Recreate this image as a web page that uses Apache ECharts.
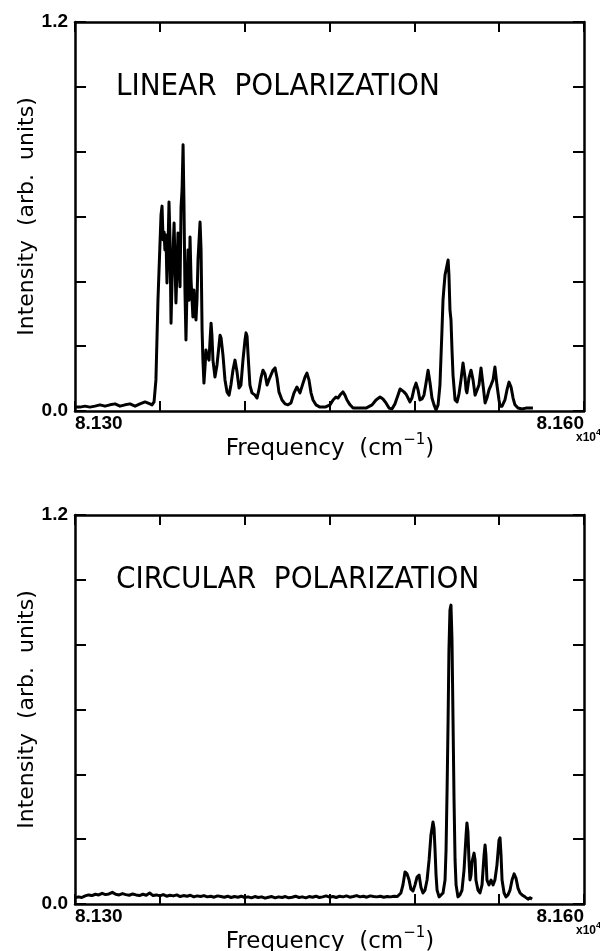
<!DOCTYPE html>
<html>
<head>
<meta charset="utf-8">
<script src="https://cdn.jsdelivr.net/npm/echarts@6.0.0/dist/echarts.min.js"></script>
<style>
  html, body { margin: 0; padding: 0; background: #fff; }
  #chart { width: 600px; height: 951px; }
</style>
</head>
<body>
<div id="chart"></div>
<script>
// frequency axis (cm^-1) and tick labels
const freqMin = 81300;
const freqMax = 81600;
const freqStep = 50;
const intMin = 0;
const intMax = 1.2;
const intStep = 0.2;

// linear polarization spectrum
const linFreq = [
  81300.0, 81302.9, 81305.9, 81308.8, 81311.8, 81314.7, 81317.7, 81320.6, 81323.6, 81326.5,
  81329.5, 81332.4, 81335.4, 81338.3, 81341.3, 81342.4, 81344.2, 81345.4, 81346.6, 81347.7,
  81348.9, 81350.1, 81350.7, 81351.3, 81351.9, 81352.5, 81353.0, 81353.6, 81354.2, 81354.8,
  81355.4, 81356.0, 81356.6, 81357.2, 81358.4, 81358.9, 81359.5, 81360.1, 81360.7, 81361.3,
  81361.9, 81362.5, 81363.1, 81363.7, 81364.2, 81364.8, 81365.4, 81366.0, 81366.6, 81367.2,
  81367.8, 81368.4, 81369.0, 81369.5, 81370.1, 81370.7, 81371.3, 81371.9, 81372.5, 81373.7,
  81374.3, 81374.9, 81375.4, 81376.0, 81376.6, 81377.2, 81377.8, 81378.4, 81379.0, 81379.6,
  81380.2, 81380.7, 81381.3, 81382.5, 81383.7, 81384.9, 81385.5, 81386.1, 81387.2, 81388.4,
  81389.6, 81390.8, 81391.9, 81393.1, 81394.3, 81395.5, 81396.7, 81397.8, 81399.0, 81400.2,
  81400.8, 81401.4, 81402.0, 81403.1, 81404.3, 81406.1, 81407.3, 81408.4, 81409.6, 81410.8,
  81412.0, 81413.2, 81414.3, 81415.5, 81416.7, 81417.9, 81419.1, 81420.2, 81422.0, 81423.8,
  81425.5, 81427.3, 81429.1, 81430.8, 81432.6, 81434.4, 81435.6, 81436.7, 81437.9, 81439.1,
  81440.3, 81442.0, 81444.4, 81447.4, 81450.3, 81452.1, 81453.8, 81455.0, 81456.2, 81457.9,
  81459.1, 81460.3, 81462.1, 81463.9, 81468.0, 81471.5, 81475.1, 81477.4, 81479.8, 81481.5,
  81483.3, 81485.1, 81486.8, 81488.6, 81490.4, 81491.6, 81492.7, 81493.9, 81495.1, 81496.3,
  81497.4, 81498.6, 81499.8, 81501.0, 81502.2, 81503.3, 81504.5, 81505.7, 81506.9, 81508.1,
  81509.2, 81510.4, 81511.6, 81512.8, 81514.0, 81515.1, 81516.3, 81516.9, 81517.5, 81518.1,
  81518.7, 81519.3, 81519.9, 81520.4, 81521.0, 81521.6, 81522.2, 81522.8, 81524.0, 81525.2,
  81526.3, 81527.5, 81528.7, 81529.3, 81529.9, 81530.5, 81531.0, 81532.2, 81533.4, 81534.6,
  81535.8, 81536.9, 81538.1, 81539.3, 81540.5, 81541.7, 81542.8, 81544.0, 81545.2, 81546.4,
  81547.5, 81548.7, 81549.9, 81550.5, 81551.7, 81553.4, 81554.6, 81555.8, 81557.0, 81558.2,
  81559.3, 81561.1, 81563.5, 81565.8, 81568.2, 81569.9
];
const linInt = [
  0.012, 0.012, 0.015, 0.012, 0.015, 0.019, 0.015, 0.019, 0.022, 0.015,
  0.019, 0.022, 0.015, 0.022, 0.028, 0.034, 0.022, 0.019, 0.028, 0.096,
  0.342, 0.518, 0.605, 0.632, 0.528, 0.552, 0.497, 0.543, 0.395, 0.497,
  0.645, 0.528, 0.271, 0.404, 0.580, 0.466, 0.333, 0.435, 0.549, 0.450,
  0.383, 0.629, 0.682, 0.821, 0.651, 0.373, 0.219, 0.373, 0.497, 0.342,
  0.537, 0.404, 0.342, 0.290, 0.373, 0.312, 0.281, 0.342, 0.466, 0.583,
  0.497, 0.250, 0.157, 0.086, 0.133, 0.188, 0.173, 0.173, 0.157, 0.219,
  0.271, 0.234, 0.157, 0.105, 0.142, 0.204, 0.234, 0.225, 0.173, 0.096,
  0.059, 0.049, 0.080, 0.126, 0.157, 0.120, 0.071, 0.080, 0.157, 0.219,
  0.241, 0.231, 0.173, 0.080, 0.056, 0.049, 0.040, 0.065, 0.102, 0.126,
  0.114, 0.080, 0.096, 0.111, 0.126, 0.133, 0.102, 0.059, 0.034, 0.022,
  0.019, 0.025, 0.056, 0.074, 0.056, 0.086, 0.105, 0.117, 0.096, 0.056,
  0.034, 0.019, 0.012, 0.012, 0.019, 0.034, 0.043, 0.040, 0.049, 0.059,
  0.049, 0.034, 0.019, 0.009, 0.009, 0.009, 0.019, 0.034, 0.043, 0.037,
  0.025, 0.009, 0.006, 0.022, 0.049, 0.068, 0.074, 0.059, 0.052, 0.040,
  0.028, 0.040, 0.068, 0.086, 0.065, 0.034, 0.037, 0.049, 0.086, 0.126,
  0.089, 0.040, 0.019, 0.003, 0.019, 0.080, 0.250, 0.342, 0.383, 0.420,
  0.435, 0.450, 0.466, 0.420, 0.312, 0.281, 0.188, 0.111, 0.034, 0.028,
  0.052, 0.096, 0.148, 0.142, 0.102, 0.065, 0.056, 0.102, 0.126, 0.096,
  0.049, 0.043, 0.080, 0.133, 0.080, 0.025, 0.040, 0.065, 0.080, 0.096,
  0.136, 0.080, 0.034, 0.015, 0.015, 0.034, 0.065, 0.089, 0.074, 0.040,
  0.019, 0.009, 0.006, 0.009, 0.009, 0.009
];

// circular polarization spectrum
const circFreq = [
  81300, 81302, 81304, 81306, 81308, 81310, 81312, 81314, 81316, 81318,
  81320, 81322, 81324, 81326, 81328, 81330, 81332, 81334, 81336, 81338,
  81340, 81342, 81344, 81346, 81348, 81350, 81352, 81354, 81356, 81358,
  81360, 81362, 81364, 81366, 81368, 81370, 81372, 81374, 81376, 81378,
  81380, 81382, 81384, 81386, 81388, 81390, 81392, 81394, 81396, 81398,
  81400, 81402, 81404, 81406, 81408, 81410, 81412, 81414, 81416, 81418,
  81420, 81422, 81424, 81426, 81428, 81430, 81432, 81434, 81436, 81438,
  81440, 81442, 81444, 81446, 81448, 81450, 81452, 81454, 81456, 81458,
  81460, 81462, 81464, 81466, 81468, 81470, 81472, 81474, 81476, 81478,
  81480, 81482, 81484, 81486, 81488, 81490,
  81492.1, 81493.3, 81494.5, 81495.1, 81495.7, 81496.9, 81498.0, 81499.2, 81500.4, 81501.6,
  81502.8, 81503.9, 81505.1, 81506.3, 81507.5, 81508.7, 81509.8, 81511.0, 81511.6, 81512.2,
  81512.8, 81513.4, 81514.6, 81515.7, 81516.9, 81518.1, 81518.7, 81519.3, 81519.9, 81520.4,
  81521.0, 81521.6, 81522.2, 81522.8, 81523.4, 81524.0, 81524.6, 81525.7, 81526.9, 81528.1,
  81529.3, 81530.5, 81531.0, 81531.6, 81532.2, 81532.8, 81533.4, 81534.0, 81535.2, 81535.8,
  81536.3, 81537.5, 81538.7, 81539.9, 81541.1, 81541.7, 81542.2, 81542.8, 81544.0, 81545.2,
  81546.4, 81547.5, 81548.7, 81549.9, 81550.5, 81551.1, 81551.7, 81552.9, 81554.0, 81555.2,
  81556.4, 81557.6, 81558.8, 81559.9, 81561.1, 81562.3, 81563.5, 81565.2, 81567.0, 81568.2,
  81569.4
];
const circInt = [
  0.019, 0.022, 0.020, 0.025, 0.028, 0.026, 0.030, 0.028, 0.033, 0.029,
  0.031, 0.036, 0.030, 0.028, 0.032, 0.029, 0.027, 0.031, 0.028, 0.026,
  0.030, 0.027, 0.034, 0.026, 0.028, 0.025, 0.029, 0.024, 0.027, 0.025,
  0.028, 0.023, 0.026, 0.024, 0.027, 0.022, 0.025, 0.023, 0.026, 0.022,
  0.024, 0.021, 0.025, 0.023, 0.021, 0.024, 0.020, 0.023, 0.021, 0.024,
  0.020, 0.022, 0.019, 0.023, 0.020, 0.022, 0.018, 0.021, 0.023, 0.019,
  0.022, 0.020, 0.023, 0.019, 0.021, 0.024, 0.020, 0.022, 0.019, 0.023,
  0.021, 0.024, 0.020, 0.022, 0.025, 0.021, 0.023, 0.020, 0.024, 0.022,
  0.025, 0.021, 0.023, 0.026, 0.022, 0.024, 0.021, 0.025, 0.023, 0.022,
  0.024, 0.021, 0.023, 0.022, 0.024, 0.023,
  0.034, 0.059, 0.099, 0.105, 0.093, 0.074, 0.046, 0.040, 0.059, 0.083,
  0.089, 0.052, 0.034, 0.043, 0.074, 0.136, 0.213, 0.253, 0.234, 0.167,
  0.089, 0.043, 0.022, 0.022, 0.034, 0.074, 0.167, 0.352, 0.568, 0.784,
  0.907, 0.922, 0.814, 0.568, 0.321, 0.136, 0.059, 0.022, 0.028, 0.043,
  0.105, 0.213, 0.250, 0.222, 0.136, 0.074, 0.089, 0.130, 0.157, 0.136,
  0.074, 0.043, 0.034, 0.059, 0.151, 0.182, 0.151, 0.074, 0.059, 0.074,
  0.059, 0.074, 0.120, 0.197, 0.204, 0.151, 0.074, 0.034, 0.022, 0.028,
  0.043, 0.074, 0.093, 0.080, 0.049, 0.034, 0.028, 0.022, 0.015, 0.019,
  0.015
];

const panelTitles = ["LINEAR  POLARIZATION", "CIRCULAR  POLARIZATION"];
const xTickLabels = { 81300: "8.130", 81600: "8.160" };
const yTickLabels = ["0.0", "1.2"];

const chart = echarts.init(document.getElementById("chart"));

const pairs = (xs, ys) => {
  const n = Math.min(xs.length, ys.length);
  const out = [];
  for (let i = 0; i < n; i++) out.push([xs[i], ys[i]]);
  return out;
};

const gridTops = [22, 515];
const gridH = 389;
const boldFamily = '"Liberation Sans", Arial, sans-serif';

const xAxes = [];
const yAxes = [];
gridTops.forEach((t, g) => {
  ["bottom", "top"].forEach((pos) => {
    xAxes.push({
      gridIndex: g,
      type: "value",
      position: pos,
      min: freqMin,
      max: freqMax,
      interval: freqStep,
      axisLine: { onZero: false, lineStyle: { color: "#000", width: 2.5 } },
      axisTick: { inside: true, length: 10, lineStyle: { color: "#000", width: 2 } },
      splitLine: { show: false },
      axisLabel: {
        show: pos === "bottom",
        margin: 3,
        color: "#000",
        fontSize: 19,
        fontWeight: "bold",
        fontFamily: boldFamily,
        showMinLabel: true,
        showMaxLabel: true,
        alignMinLabel: "left",
        alignMaxLabel: "right",
        formatter: (v) => xTickLabels[Math.round(v)] || "",
      },
    });
  });
  ["left", "right"].forEach((pos) => {
    yAxes.push({
      gridIndex: g,
      type: "value",
      position: pos,
      min: intMin,
      max: intMax,
      interval: intStep,
      axisLine: { onZero: false, lineStyle: { color: "#000", width: 2.5 } },
      axisTick: { inside: true, length: 11, lineStyle: { color: "#000", width: 2 } },
      splitLine: { show: false },
      axisLabel: {
        show: pos === "left",
        margin: 7,
        color: "#000",
        fontSize: 19,
        fontWeight: "bold",
        fontFamily: boldFamily,
        showMinLabel: true,
        showMaxLabel: true,
        formatter: (v) => {
          if (Math.abs(v - intMin) < 1e-6) return yTickLabels[0];
          if (Math.abs(v - intMax) < 1e-6) return yTickLabels[1];
          return "";
        },
      },
    });
  });
});

const titleFont = '31px "DejaVu Sans Condensed", "Liberation Sans Narrow", "Liberation Sans", sans-serif';
const labelFont = '"DejaVu Sans", sans-serif';

const graphics = [];
const xTitleOffset = 36;
const x104Offset = 25;
gridTops.forEach((t, g) => {
  const axisY = t + gridH;
  graphics.push({
    type: "text",
    x: 116,
    y: t + gridH / 6,
    style: { text: panelTitles[g], font: titleFont, fill: "#000", align: "left", verticalAlign: "middle" },
  });
  graphics.push({
    type: "text",
    x: 27,
    y: t + gridH / 2,
    rotation: Math.PI / 2,
    style: {
      text: "Intensity  (arb.  units)",
      font: "22px " + labelFont,
      fill: "#000",
      align: "center",
      verticalAlign: "middle",
    },
  });
  graphics.push({
    type: "text",
    x: 330,
    y: axisY + xTitleOffset,
    style: {
      text: "{a|Frequency  (cm}{s|\u22121}{a|)}",
      align: "center",
      verticalAlign: "middle",
      fill: "#000",
      rich: {
        a: { font: "23px " + labelFont, fill: "#000", lineHeight: 28, verticalAlign: "bottom" },
        s: { font: "15px " + labelFont, fill: "#000", lineHeight: 28, verticalAlign: "top" },
      },
    },
  });
  graphics.push({
    type: "text",
    x: 576,
    y: axisY + x104Offset,
    style: {
      text: "{a|x10}{s|4}",
      align: "left",
      verticalAlign: "middle",
      rich: {
        a: { font: "bold 12px " + boldFamily, fill: "#000", lineHeight: 16, verticalAlign: "bottom" },
        s: { font: "bold 9px " + boldFamily, fill: "#000", lineHeight: 16, verticalAlign: "top" },
      },
    },
  });
});

chart.setOption({
  animation: false,
  backgroundColor: "#fff",
  grid: gridTops.map((t) => ({ left: 75, right: 16, top: t, height: gridH })),
  xAxis: xAxes,
  yAxis: yAxes,
  graphic: graphics,
  series: [
    {
      type: "line",
      xAxisIndex: 0,
      yAxisIndex: 0,
      data: pairs(linFreq, linInt),
      showSymbol: false,
      lineStyle: { color: "#000", width: 3, join: "round" },
    },
    {
      type: "line",
      xAxisIndex: 2,
      yAxisIndex: 2,
      data: pairs(circFreq, circInt),
      showSymbol: false,
      lineStyle: { color: "#000", width: 3, join: "round" },
    },
  ],
});
</script>
</body>
</html>
